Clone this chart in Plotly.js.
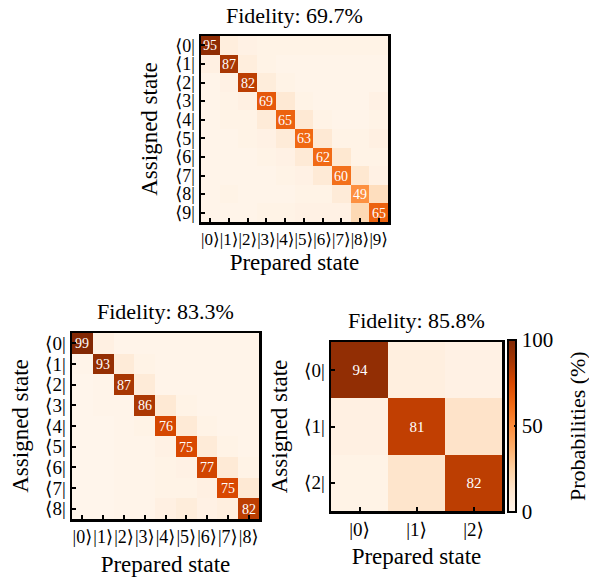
<!DOCTYPE html>
<html>
<head>
<meta charset="utf-8">
<script src="https://cdn.plot.ly/plotly-3.0.1.min.js"></script>
<style>html,body{margin:0;padding:0;background:#fff;}</style>
</head>
<body>
<div id="chart" style="width:589px;height:579px;"></div>
<script>
// ---- data (rows: assigned state, columns: prepared state), percent ----
var matrix10 = [
  [95, 6, 3, 2, 2, 2, 2, 2, 2, 2],
  [4, 87, 6, 2, 1, 1, 1, 1, 1, 1],
  [1, 3, 82, 7, 2, 1, 1, 1, 1, 1],
  [1, 2, 4, 69, 10, 2, 1, 1, 1, 3],
  [1, 2, 2, 8, 65, 10, 2, 1, 1, 2],
  [1, 1, 2, 3, 8, 63, 10, 2, 2, 4],
  [1, 1, 1, 2, 3, 9, 62, 11, 2, 2],
  [1, 1, 1, 1, 2, 3, 9, 60, 11, 3],
  [1, 2, 1, 1, 1, 2, 2, 8, 49, 17],
  [1, 1, 1, 2, 2, 3, 3, 3, 20, 65]
];
var matrix9 = [
  [99, 4, 1, 1, 1, 1, 1, 1, 1],
  [1, 93, 8, 2, 1, 1, 1, 1, 1],
  [0, 1, 87, 8, 1, 1, 1, 1, 1],
  [0, 1, 1, 86, 10, 2, 1, 1, 1],
  [0, 0, 1, 2, 76, 9, 2, 1, 1],
  [0, 0, 1, 1, 3, 75, 8, 2, 1],
  [0, 0, 1, 1, 2, 3, 77, 9, 2],
  [0, 0, 1, 1, 2, 2, 4, 75, 10],
  [0, 0, 1, 1, 4, 7, 3, 5, 82]
];
var matrix3 = [
  [94, 5, 3],
  [4, 81, 14],
  [2, 13, 82]
];
var fidelities = ["Fidelity: 69.7%", "Fidelity: 83.3%", "Fidelity: 85.8%"];
var xAxisLabel = "Prepared state";
var yAxisLabel = "Assigned state";
var colorbarLabel = "Probabilities (%)";
var colorbarTicks = [0, 50, 100];

function kets(n){ var a=[]; for(var i=0;i<n;i++) a.push("|"+i+"\u27E9"); return a; }
function bras(n){ var a=[]; for(var i=0;i<n;i++) a.push("\u27E8"+i+"|"); return a; }
function idx(n){ var a=[]; for(var i=0;i<n;i++) a.push(i); return a; }
function diagText(m){ return m.map(function(r,i){ return r.map(function(v,j){ return i===j ? String(v) : ""; }); }); }

var oranges = [
  [0.0, "#fff5eb"], [0.125, "#fee6ce"], [0.25, "#fdd0a2"], [0.375, "#fdae6b"],
  [0.5, "#fd8d3c"], [0.625, "#f16913"], [0.75, "#d94801"], [0.875, "#a63603"], [1.0, "#7f2704"]
];
var serif = "'Liberation Serif', 'DejaVu Serif', serif";

function hm(m, xa, ya, fs, showScale){
  var n = m.length;
  var t = {
    type: "heatmap", z: m, x: idx(n), y: idx(n),
    text: diagText(m), texttemplate: "%{text}",
    textfont: {family: serif, size: fs, color: "#ffffff"},
    colorscale: oranges, zmin: 0, zmax: 100,
    xaxis: xa, yaxis: ya, showscale: !!showScale, hoverinfo: "z"
  };
  if (showScale) {
    t.colorbar = {
      x: 508/589, xanchor: "left", xref: "paper",
      y: 67/579, yanchor: "bottom", yref: "paper",
      len: 172/579, lenmode: "fraction", thickness: 8, thicknessmode: "pixels",
      outlinewidth: 2, outlinecolor: "#000",
      tickvals: colorbarTicks, ticktext: colorbarTicks.map(String),
      ticks: "inside", ticklen: 3, tickwidth: 1.5, tickcolor: "#000",
      tickfont: {family: serif, size: 21, color: "#000"},
      xpad: 0, ypad: 0
    };
  }
  return t;
}

function xax(n, dom, anchor, fs, standoff){
  return {
    domain: dom, anchor: anchor, range: [-0.5, n-0.5],
    tickvals: idx(n), ticktext: kets(n), tickfont: {family: serif, size: fs, color: "#000"},
    tickangle: 0,
    ticks: "inside", ticklen: 4, tickwidth: 2, tickcolor: "#000",
    showline: true, linewidth: 2.5, linecolor: "#000", mirror: true,
    showgrid: false, zeroline: false, fixedrange: true,
    title: {text: xAxisLabel, font: {family: serif, size: 23, color: "#000"}, standoff: standoff}
  };
}
function yax(n, dom, anchor, fs, standoff){
  return {
    domain: dom, anchor: anchor, range: [n-0.5, -0.5],
    tickvals: idx(n), ticktext: bras(n), tickfont: {family: serif, size: fs, color: "#000"},
    ticks: "inside", ticklen: 4, tickwidth: 2, tickcolor: "#000",
    showline: true, linewidth: 2.5, linecolor: "#000", mirror: true,
    showgrid: false, zeroline: false, fixedrange: true,
    title: {text: yAxisLabel, font: {family: serif, size: 23, color: "#000"}, standoff: standoff}
  };
}

var data = [
  hm(matrix10, "x", "y", 14, false),
  hm(matrix9, "x2", "y2", 14, false),
  hm(matrix3, "x3", "y3", 15, true)
];

var layout = {
  width: 589, height: 579,
  margin: {l: 0, r: 0, t: 0, b: 0},
  paper_bgcolor: "#fff", plot_bgcolor: "#fff",
  font: {family: serif},
  showlegend: false,
  xaxis:  xax(10, [201/589, 388/589], "y", 17, 6),
  yaxis:  yax(10, [357/579, 543/579], "x", 18, 11),
  xaxis2: xax(9, [72/589, 259/589], "y2", 18, 10),
  yaxis2: yax(9, [60/579, 246/579], "x2", 19, 10),
  xaxis3: xax(3, [331/589, 502/589], "y3", 19, 9),
  yaxis3: yax(3, [68/579, 237/579], "x3", 19, 10),
  annotations: [
    {text: fidelities[0], x: 294.5/589, y: 579-16, xref: "paper", yref: "paper", showarrow: false,
     font: {family: serif, size: 22, color: "#000"}, xanchor: "center", yanchor: "middle"},
    {text: fidelities[1], x: 165.5/589, y: 579-311, xref: "paper", yref: "paper", showarrow: false,
     font: {family: serif, size: 22, color: "#000"}, xanchor: "center", yanchor: "middle"},
    {text: fidelities[2], x: 416.5/589, y: 579-320, xref: "paper", yref: "paper", showarrow: false,
     font: {family: serif, size: 22, color: "#000"}, xanchor: "center", yanchor: "middle"},
    {text: colorbarLabel, x: 578/589, y: 579-426, xref: "paper", yref: "paper", showarrow: false,
     textangle: -90, font: {family: serif, size: 22, color: "#000"}, xanchor: "center", yanchor: "middle"}
  ]
};
layout.annotations.forEach(function(a){ a.y = a.y/579; });

Plotly.newPlot("chart", data, layout, {displayModeBar: false, staticPlot: true});
</script>
</body>
</html>
